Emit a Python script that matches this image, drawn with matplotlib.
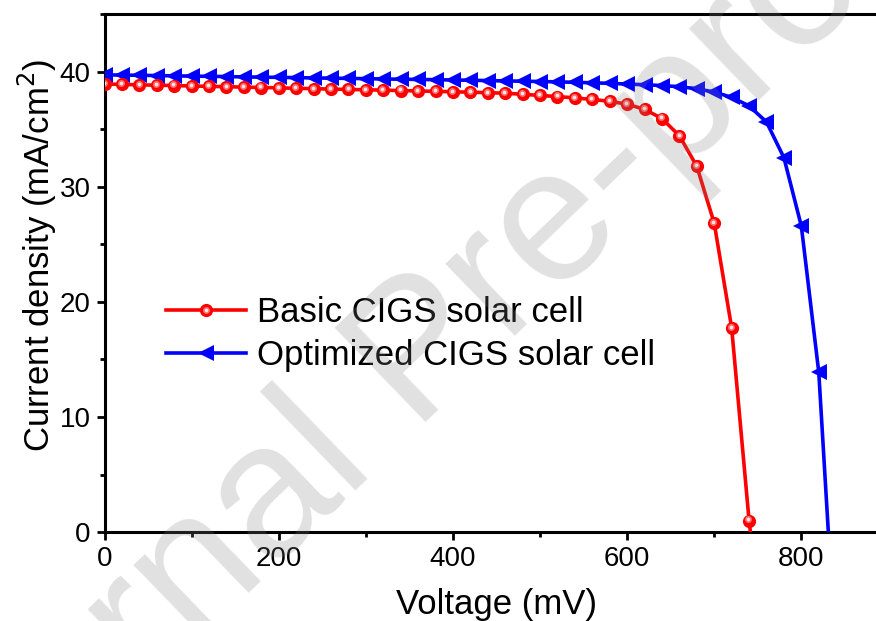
import matplotlib
matplotlib.use("Agg")
import matplotlib.pyplot as plt
from matplotlib import transforms
from matplotlib.lines import Line2D
from matplotlib.legend_handler import HandlerTuple

plt.rcParams["font.family"] = ["Liberation Sans", "DejaVu Sans"]

# J-V data, voltage in mV, current density in mA/cm^2
voltage_basic = [0, 20, 40, 60, 80, 100, 120, 140, 160, 180,
                 200, 220, 240, 260, 280, 300, 320, 340, 360, 380,
                 400, 420, 440, 460, 480, 500, 520, 540, 560, 580,
                 600, 620, 640, 660, 680, 700, 720, 740, 741.5]
current_basic = [38.95, 38.92, 38.88, 38.85, 38.82, 38.78, 38.75, 38.72, 38.68, 38.65,
                 38.62, 38.58, 38.55, 38.51, 38.48, 38.45, 38.42, 38.38, 38.35, 38.31,
                 38.28, 38.24, 38.20, 38.15, 38.06, 37.96, 37.86, 37.75, 37.61, 37.45,
                 37.20, 36.75, 35.95, 34.45, 31.80, 26.85, 17.75, 1.00, 0.0]

voltage_opt = [0, 20, 40, 60, 80, 100, 120, 140, 160, 180,
               200, 220, 240, 260, 280, 300, 320, 340, 360, 380,
               400, 420, 440, 460, 480, 500, 520, 540, 560, 580,
               600, 620, 640, 660, 680, 700, 720, 740, 760, 780,
               800, 820, 831]
current_opt = [39.75, 39.73, 39.71, 39.69, 39.66, 39.64, 39.62, 39.60, 39.57, 39.55,
               39.53, 39.51, 39.48, 39.46, 39.44, 39.42, 39.39, 39.37, 39.35, 39.33,
               39.30, 39.28, 39.25, 39.22, 39.20, 39.17, 39.14, 39.10, 39.06, 39.01,
               38.95, 38.89, 38.82, 38.72, 38.55, 38.25, 37.80, 37.05, 35.65, 32.55,
               26.60, 13.90, 0.0]

label_basic = "Basic CIGS solar cell"
label_opt = "Optimized CIGS solar cell"

x_major = [0, 200, 400, 600, 800]
x_minor = [100, 300, 500, 700, 900]
y_major = [0, 10, 20, 30, 40]
y_minor = [5, 15, 25, 35, 45]

RED = "#ff0000"
BLUE = "#0000ff"
LW = 2.6
MS_CIRCLE = 9.5
MS_TRI = 11.5

fig = plt.figure(figsize=(8.76, 6.21), dpi=100)
ax = fig.add_axes([0.1193, 0.1433, 0.8949, 0.8334])

n_b = len(voltage_basic) - 1
n_o = len(voltage_opt) - 1

line_opt, = ax.plot(voltage_opt, current_opt, color=BLUE, lw=LW,
                    marker="<", markersize=MS_TRI, markeredgewidth=0,
                    markevery=list(range(n_o)), zorder=3)
line_basic, = ax.plot(voltage_basic, current_basic, color=RED, lw=LW,
                      marker="o", markersize=MS_CIRCLE, markeredgewidth=0,
                      markevery=list(range(n_b)), zorder=4)

# glossy highlight on the spherical markers
shift = transforms.offset_copy(ax.transData, fig=fig, x=-0.6, y=0.8, units="points")
ax.plot(voltage_basic[:n_b], current_basic[:n_b], ls="none", marker="o",
        markersize=5, markeredgewidth=0, color="#ff7070", transform=shift, zorder=5)
ax.plot(voltage_basic[:n_b], current_basic[:n_b], ls="none", marker="o",
        markersize=2.6, markeredgewidth=0, color="#ffe6e6", transform=shift, zorder=6)

ax.set_xlim(0, 900)
ax.set_ylim(0, 45)
ax.set_xticks(x_major)
ax.set_xticks(x_minor, minor=True)
ax.set_yticks(y_major)
ax.set_yticks(y_minor, minor=True)

for side in ["left", "bottom", "top"]:
    ax.spines[side].set_linewidth(2.2)
ax.spines["right"].set_visible(False)

ax.tick_params(which="major", direction="out", length=6, width=2.0,
               labelsize=20, pad=4)
ax.tick_params(which="minor", direction="out", length=3.6, width=2.0)

fig.text(496 / 876, (621 - 614) / 621, "Voltage (mV)", fontsize=25,
         ha="center", va="baseline")
fig.text(37 / 876, 1 - 255 / 621, "Current density (mA/cm$^2$)", fontsize=25,
         rotation=90, ha="center", va="center")

# legend handles
h_basic = Line2D([], [], color=RED, lw=LW, marker="o", markersize=MS_CIRCLE,
                 markeredgewidth=0)
h_glow = Line2D([], [], ls="none", marker="o", markersize=5,
                markeredgewidth=0, color="#ff7070")
h_spot = Line2D([], [], ls="none", marker="o", markersize=2.6,
                markeredgewidth=0, color="#ffe6e6")
h_opt = Line2D([], [], color=BLUE, lw=LW, marker="<", markersize=MS_TRI,
               markeredgewidth=0)

ax.legend([(h_basic, h_glow, h_spot), h_opt], [label_basic, label_opt],
          handler_map={tuple: HandlerTuple(ndivide=1, pad=0)},
          loc="center left", bbox_to_anchor=(166 / 876, (621 - 334) / 621),
          bbox_transform=fig.transFigure, frameon=False, fontsize=25,
          handlelength=2.3, handletextpad=0.33, labelspacing=0.3,
          borderpad=0, borderaxespad=0, numpoints=1)

fig.text(0.521, 0.369, "Journal Pre-proof", fontsize=137, rotation=44,
         rotation_mode="anchor", ha="center", va="baseline",
         color="#808080", alpha=0.24, zorder=10)

fig.savefig("out.png", dpi=100)
